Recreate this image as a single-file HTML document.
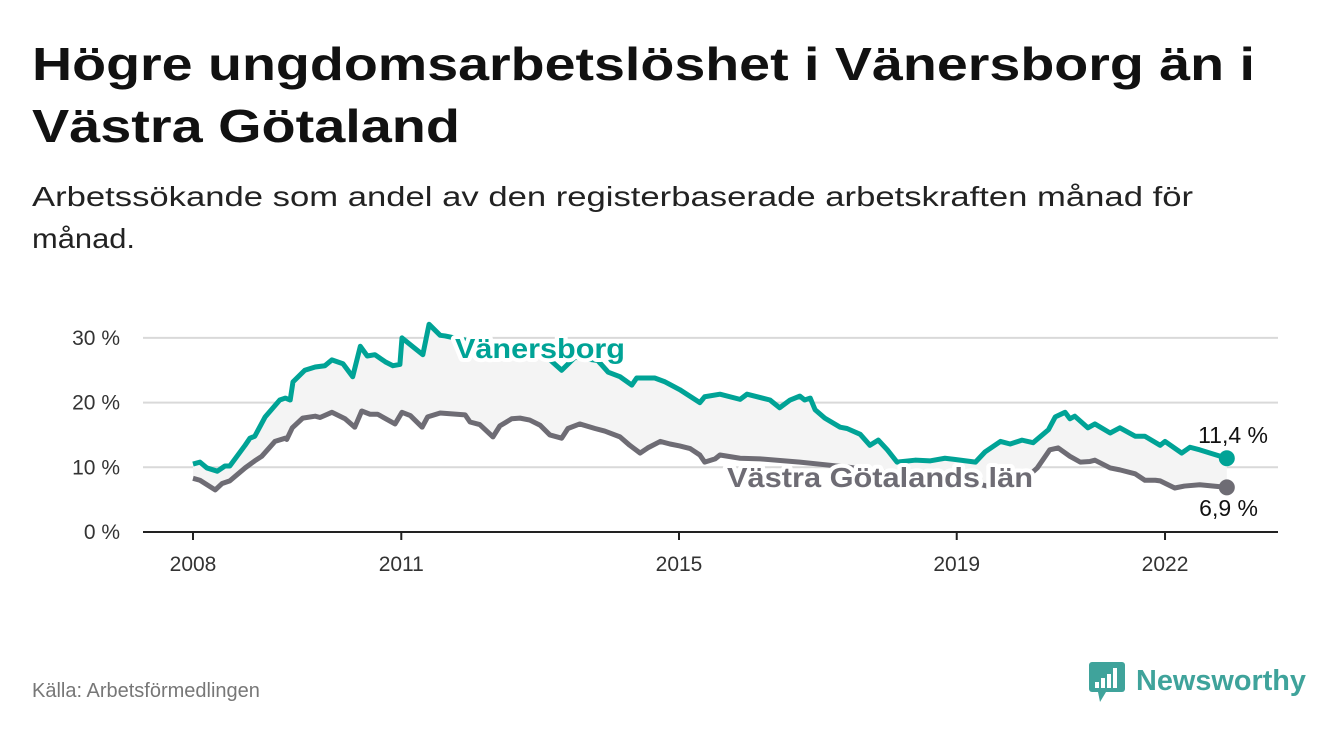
<!DOCTYPE html>
<html><head><meta charset="utf-8"><style>
html,body{margin:0;padding:0;background:#fff;}
svg{display:block;font-family:"Liberation Sans","DejaVu Sans",sans-serif;}
</style></head><body>
<svg id="chart" width="1340" height="734" viewBox="0 0 1340 734" xmlns="http://www.w3.org/2000/svg">
<text x="32" y="80" font-size="46" font-weight="bold" fill="#111" textLength="1223" lengthAdjust="spacingAndGlyphs">Högre ungdomsarbetslöshet i Vänersborg än i</text>
<text x="32" y="142" font-size="46" font-weight="bold" fill="#111" textLength="428" lengthAdjust="spacingAndGlyphs">Västra Götaland</text>
<text x="32" y="206" font-size="28" fill="#222" textLength="1161" lengthAdjust="spacingAndGlyphs">Arbetssökande som andel av den registerbaserade arbetskraften månad för</text>
<text x="32" y="248" font-size="28" fill="#222" textLength="103" lengthAdjust="spacingAndGlyphs">månad.</text>
<g id="grid"></g>
<g id="plot"></g>
<text x="32" y="697" font-size="20" fill="#777">Källa: Arbetsförmedlingen</text>
<g>
<rect x="1089" y="662" width="36" height="30" rx="3" fill="#3fa39b"/>
<polygon points="1098,692 1106,692 1100,702" fill="#3fa39b"/>
<rect x="1095" y="682" width="4" height="6" fill="#fff"/><rect x="1101" y="678" width="4" height="10" fill="#fff"/><rect x="1107" y="674" width="4" height="14" fill="#fff"/><rect x="1113" y="668" width="4" height="20" fill="#fff"/>
<text x="1136" y="690" font-size="29" font-weight="bold" fill="#3fa39b" textLength="170" lengthAdjust="spacingAndGlyphs">Newsworthy</text>
</g>
</svg>
<script>
const yTicks=[0,10,20,30];
const xTicks=[2008,2011,2015,2019,2022];
const vOffsets=[0,0.10,0.20,0.35,0.46,0.53,0.75,0.82,0.89,1.04,1.25,1.33,1.40,1.44,1.61,1.76,1.90,2.00,2.16,2.30,2.41,2.51,2.62,2.77,2.88,2.98,3.01,3.17,3.31,3.40,3.56,3.63,3.99,4.42,4.85,5.10,5.31,5.50,5.83,5.98,6.15,6.32,6.39,6.65,6.80,7.01,7.30,7.37,7.59,7.88,7.98,8.31,8.45,8.60,8.74,8.81,8.89,8.96,9.10,9.32,9.42,9.61,9.75,9.87,10.00,10.14,10.40,10.62,10.83,10.98,11.27,11.41,11.63,11.77,11.94,12.10,12.32,12.42,12.56,12.63,12.70,12.89,12.99,13.21,13.35,13.57,13.71,13.93,14.00,14.24,14.36,14.50,14.89];
const vValues=[10.5,10.8,9.9,9.4,10.2,10.2,13.4,14.5,14.8,17.8,20.4,20.7,20.4,23.2,25,25.5,25.7,26.6,26,24,28.7,27.2,27.4,26.3,25.7,25.9,30,28.6,27.4,32.1,30.4,30.3,29.5,28.5,27.5,27,25,27,26.5,24.7,24,22.7,23.8,23.8,23.2,22,20,20.9,21.3,20.5,21.3,20.4,19.2,20.4,21,20.4,20.7,18.9,17.6,16.2,16,15.1,13.4,14.2,12.7,10.8,11.1,11,11.4,11.2,10.8,12.4,14,13.6,14.2,13.8,15.8,17.8,18.5,17.5,17.9,16.1,16.7,15.3,16.1,14.8,14.8,13.4,14,12.2,13.1,12.7,11.4];
const gOffsets=[0,0.10,0.32,0.42,0.53,0.75,0.89,0.99,1.18,1.33,1.35,1.43,1.58,1.76,1.83,2.00,2.19,2.33,2.43,2.55,2.66,2.91,3.01,3.13,3.30,3.38,3.56,3.92,3.99,4.13,4.32,4.42,4.59,4.71,4.85,5.00,5.14,5.31,5.40,5.57,5.79,5.93,6.15,6.29,6.44,6.55,6.73,6.87,7.01,7.16,7.30,7.37,7.52,7.59,7.88,8.17,8.74,9.46,10.18,11.05,11.48,11.91,12.16,12.34,12.46,12.63,12.78,12.92,12.99,13.21,13.35,13.57,13.71,13.86,13.93,14.14,14.28,14.50,14.89];
const gValues=[8.3,8,6.5,7.5,7.9,9.9,11,11.7,14,14.5,14.3,16.1,17.6,17.9,17.7,18.5,17.5,16.2,18.7,18.2,18.2,16.7,18.5,18,16.2,17.8,18.4,18.1,17,16.6,14.7,16.4,17.5,17.6,17.3,16.5,15,14.5,16,16.7,16,15.6,14.7,13.4,12.2,13,14,13.6,13.3,12.9,11.9,10.8,11.3,11.9,11.4,11.3,10.8,10,9,8,7,7.5,9.9,12.7,13,11.7,10.8,10.9,11.1,9.9,9.6,9,8,8,7.9,6.8,7.1,7.3,6.9];
const NS='http://www.w3.org/2000/svg';
const X=t=>193+(t-2008)*69.43;
const Y=v=>532-v*6.47;
const grid=document.getElementById('grid'),plot=document.getElementById('plot');
function mk(tag,attrs,parent){const e=document.createElementNS(NS,tag);for(const k in attrs)e.setAttribute(k,attrs[k]);parent.appendChild(e);return e;}
yTicks.forEach(v=>{
 if(v>0){const l=mk('line',{x1:143,x2:1278,y1:Y(v),y2:Y(v),stroke:'#d9d9d9','stroke-width':2},grid);
 
 }
 const t=mk('text',{x:120,y:Y(v)+7,'font-size':21,fill:'#333','text-anchor':'end'},grid);t.textContent=v+' %';
 
 
});
const ax=mk('line',{x1:143,x2:1278,y1:532,y2:532,stroke:'#222','stroke-width':2},grid);


xTicks.forEach(y=>{
 mk('line',{x1:X(y),x2:X(y),y1:532,y2:540,stroke:'#222','stroke-width':2},grid);
 const t=mk('text',{x:X(y),y:571,'font-size':21,fill:'#333','text-anchor':'middle'},grid);t.textContent=y;
 
 
});
const pv=vOffsets.map((d,i)=>[X(2008+d),Y(vValues[i])]);
const pg=gOffsets.map((d,i)=>[X(2008+d),Y(gValues[i])]);
const area=mk('path',{d:'M'+pv.map(p=>p.join(',')).join('L')+'L'+pg.slice().reverse().map(p=>p.join(',')).join('L')+'Z',fill:'#f4f4f4'},plot);


const lg=mk('path',{d:'M'+pg.map(p=>p.join(',')).join('L'),fill:'none',stroke:'#6e6c74','stroke-width':5,'stroke-linejoin':'round'},plot);


const lv=mk('path',{d:'M'+pv.map(p=>p.join(',')).join('L'),fill:'none',stroke:'#00a396','stroke-width':5,'stroke-linejoin':'round'},plot);


const dv=mk('circle',{cx:pv[pv.length-1][0],cy:pv[pv.length-1][1],r:8,fill:'#00a396'},plot);


const dg=mk('circle',{cx:pg[pg.length-1][0],cy:pg[pg.length-1][1],r:8,fill:'#6e6c74'},plot);


function lbl(txt,x,y,fill,name,anchor,size,bold,len){
 const t=mk('text',{x:x,y:y,'font-size':size,fill:fill,'font-weight':bold?'bold':'normal',stroke:'#fff','stroke-width':bold?8:0,'paint-order':'stroke','text-anchor':anchor,'stroke-linejoin':'round'},plot);
 if(len){t.setAttribute('textLength',len);t.setAttribute('lengthAdjust','spacingAndGlyphs');}
 t.textContent=txt;
 
 
}
lbl('Vänersborg',455,358,'#00a396','series-label-vanersborg','start',28,true,170);
lbl('Västra Götalands län',727,487,'#6e6c74','series-label-vastra-gotaland','start',28,true,306);
lbl(vValues[vValues.length-1].toFixed(1).replace('.',',')+' %',1268,443,'#111','end-value-vanersborg','end',23,false,0);
lbl(gValues[gValues.length-1].toFixed(1).replace('.',',')+' %',1258,516,'#111','end-value-vastra-gotaland','end',23,false,0);
</script>
</body></html>
